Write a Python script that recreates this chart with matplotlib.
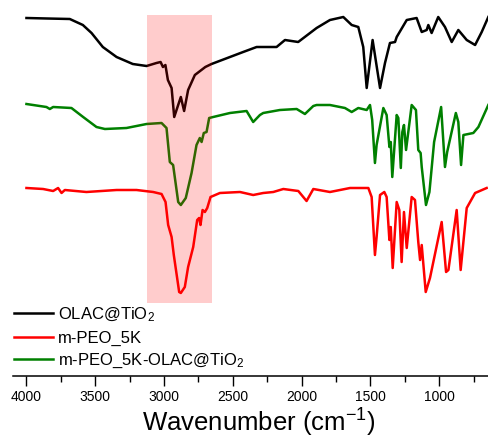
import numpy as np
import matplotlib.pyplot as plt

plt.rcParams['font.family'] = ['Liberation Sans', 'DejaVu Sans']
plt.rcParams['mathtext.default'] = 'regular'

# Espectros FTIR (transmitancia desplazada, u.a.)
wn_olac = [4000, 3850, 3685, 3590, 3527, 3445, 3345, 3227, 3127, 3055, 3025, 3008, 2990,
           2972, 2945, 2926, 2878, 2854, 2825, 2776, 2700, 2655, 2425, 2327, 2182, 2121,
           2025, 1891, 1794, 1697, 1636, 1588, 1552, 1527, 1484, 1430, 1394, 1358, 1321,
           1309, 1236, 1164, 1127, 1091, 1079, 1055, 1007, 958, 909, 861, 800, 739, 691, 643]
t_olac = [358, 357.5, 357, 351, 343, 329, 319, 312, 310, 313, 314, 309, 311,
          296, 288, 259, 279, 265, 286, 301, 309, 312, 324, 329, 329, 336,
          334, 348, 356, 359, 351, 349, 329, 288, 336, 288, 313, 333, 334,
          339, 356, 358, 344, 346, 351, 343, 359, 349, 334, 346, 336, 331, 344, 359]

wn_mix = [4000, 3855, 3830, 3806, 3673, 3588, 3491, 3430, 3273, 3127, 3018, 2982, 2958,
          2934, 2897, 2878, 2842, 2800, 2764, 2740, 2727, 2711, 2691, 2672, 2643, 2521,
          2400, 2352, 2303, 2279, 2158, 2036, 1976, 1915, 1891, 1794, 1685, 1636, 1588,
          1527, 1503, 1487, 1467, 1455, 1406, 1382, 1362, 1352, 1341, 1309, 1297, 1279,
          1268, 1256, 1241, 1200, 1169, 1152, 1135, 1127, 1096, 1071, 1037, 986, 958,
          942, 879, 861, 841, 824, 752, 715, 643]
t_mix = [272, 269, 267, 269, 268, 259, 249, 247, 248, 252, 253, 248, 214,
         211, 174, 171, 178, 203, 231, 238, 234, 243, 244, 258, 259, 263,
         265, 254, 261, 263, 266, 267, 262, 270, 271, 271, 268, 264, 268,
         266, 271, 256, 213, 231, 268, 261, 229, 234, 199, 261, 258, 208,
         244, 251, 226, 271, 266, 226, 223, 209, 171, 184, 234, 269, 209,
         224, 263, 254, 211, 241, 243, 249, 271]

wn_peo = [4000, 3879, 3806, 3770, 3745, 3721, 3564, 3345, 3200, 3079, 3018, 2989, 2970,
          2945, 2929, 2890, 2878, 2849, 2825, 2788, 2759, 2745, 2735, 2720, 2703, 2686,
          2662, 2594, 2448, 2352, 2279, 2206, 2133, 2024, 1964, 1915, 1794, 1648, 1515,
          1491, 1467, 1455, 1430, 1399, 1382, 1362, 1352, 1338, 1309, 1290, 1273, 1256,
          1236, 1200, 1176, 1152, 1139, 1127, 1098, 1067, 982, 950, 933, 873, 844, 800,
          739, 655]
t_peo = [188, 187, 185, 188, 183, 186, 184, 186, 186, 184, 182, 174, 151,
         139, 121, 84, 83, 89, 109, 129, 156, 158, 151, 166, 164, 168,
         179, 183, 184, 181, 183, 184, 187, 185, 175, 187, 184, 188, 188,
         179, 121, 139, 181, 184, 179, 136, 149, 108, 174, 166, 114, 164,
         128, 179, 176, 134, 116, 131, 84, 98, 154, 104, 106, 166, 106, 168,
         183, 188]

band_wn = (3127, 2655)
band_t = (73, 361)

fig = plt.figure(figsize=(4.89, 4.40), dpi=100)
ax = fig.add_axes([12.7 / 489, 64 / 440, 476.3 / 489, 376 / 440])

ax.plot(wn_olac, t_olac, color='black', lw=1.8, label='OLAC@TiO$_2$')
ax.plot(wn_peo, t_peo, color='red', lw=1.8, label='m-PEO_5K')
ax.plot(wn_mix, t_mix, color='green', lw=1.8, label='m-PEO_5K-OLAC@TiO$_2$')

# banda C-H resaltada
ax.fill_between(band_wn, band_t[0], band_t[1], color='red', alpha=0.2, lw=0, zorder=5)

ax.set_xlim(4100, 638)
ax.set_ylim(0, 376)
ax.set_xticks(np.arange(4000, 999, -500))
ax.set_xticks(np.arange(3750, 700, -500), minor=True)
ax.tick_params(axis='x', which='major', direction='out', length=7, width=1, pad=3, labelsize=10)
ax.tick_params(axis='x', which='minor', direction='out', length=4, width=1)
ax.set_yticks([])
for s in ['left', 'right', 'top']:
    ax.spines[s].set_visible(False)
ax.spines['bottom'].set_linewidth(1.1)

ax.set_xlabel('Wavenumber (cm$^{-1}$)', fontsize=18.5)
ax.xaxis.set_label_coords(0.517, -0.083)

ax.legend(loc='upper left', bbox_to_anchor=(0.003, 0.188), frameon=False, fontsize=12,
          handlelength=2.35, handletextpad=0.3, labelspacing=0.4, borderaxespad=0,
          borderpad=0)

fig.savefig('out.png', dpi=100)
